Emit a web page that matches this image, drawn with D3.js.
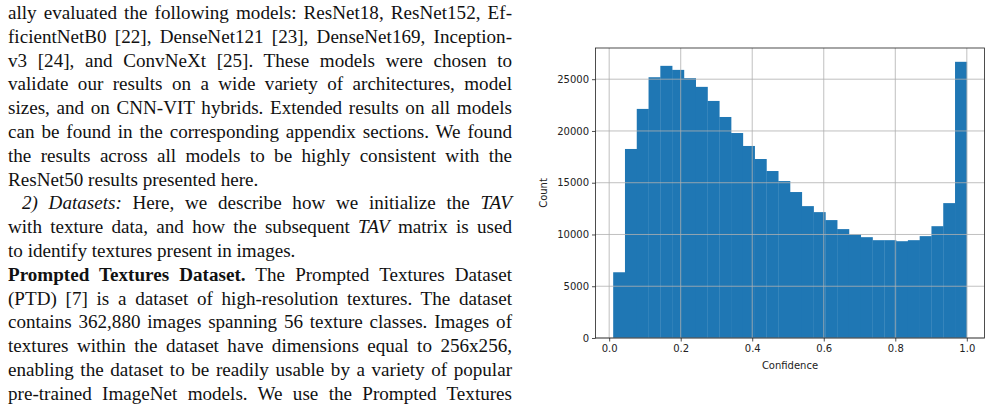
<!DOCTYPE html>
<html><head><meta charset="utf-8">
<script src="https://cdn.jsdelivr.net/npm/d3@7"></script>
<style>
body{margin:0;background:#fff;width:992px;height:404px;overflow:hidden;position:relative}
#txt{position:absolute;left:8px;top:1px;width:504px;font-family:"Liberation Serif","Times New Roman",serif;font-size:19.1px;line-height:23.8px;color:#111}
#txt div{text-align:justify;text-align-last:justify;white-space:normal;height:23.8px;overflow:visible}
#txt div.l{text-align-last:left}
#chart{position:absolute;left:0;top:0}
</style></head><body>
<div id="txt"></div>
<svg id="chart" width="992" height="404"></svg>
<script>
const textLines = [
 "ally evaluated the following models: ResNet18, ResNet152, Ef-",
 "ficientNetB0 [22], DenseNet121 [23], DenseNet169, Inception-",
 "v3 [24], and ConvNeXt [25]. These models were chosen to",
 "validate our results on a wide variety of architectures, model",
 "sizes, and on CNN-VIT hybrids. Extended results on all models",
 "can be found in the corresponding appendix sections. We found",
 "the results across all models to be highly consistent with the",
 "ResNet50 results presented here.|L",
 "&emsp;<i>2) Datasets:</i> Here, we describe how we initialize the <i>TAV</i>",
 "with texture data, and how the subsequent <i>TAV</i> matrix is used",
 "to identify textures present in images.|L",
 "<b>Prompted Textures Dataset.</b> The Prompted Textures Dataset",
 "(PTD) [7] is a dataset of high-resolution textures. The dataset",
 "contains 362,880 images spanning 56 texture classes. Images of",
 "textures within the dataset have dimensions equal to 256x256,",
 "enabling the dataset to be readily usable by a variety of popular",
 "pre-trained ImageNet models. We use the Prompted Textures"
];
const binStart = 0.0112, binEnd = 1.0;
const counts = [6350,18260,22130,25190,26290,25900,25100,24260,22900,21350,19800,18550,17290,16130,15160,14100,12740,12160,11390,10520,10000,9740,9450,9450,9350,9450,9840,10800,13030,26680];
const xTicks = [0,0.2,0.4,0.6,0.8,1.0];
const yTicks = [0,5000,10000,15000,20000,25000];

const t = d3.select("#txt");
textLines.forEach(s=>{
  const last = s.endsWith("|L");
  const h = last ? s.slice(0,-2) : s;
  t.append("div").attr("class", last?"l":null).html(h.replace(/^&emsp;/,'<span style="display:inline-block;width:14px"></span>'));
});

const svg = d3.select("#chart");
const L=595.5,R=984.5,T=48,B=338;
const nb=counts.length, w=(binEnd-binStart)/nb;
const x=d3.scaleLinear().domain([binStart-0.05*(binEnd-binStart),binEnd+0.05*(binEnd-binStart)]).range([L,R]);
const ymax=d3.max(counts)*1.05;
const y=d3.scaleLinear().domain([0,ymax]).range([B,T]);
const g=svg.append("g");
g.selectAll("rect").data(counts).join("rect")
 .attr("x",(d,i)=>x(binStart+i*w)).attr("width",(d,i)=>x(binStart+(i+1)*w)-x(binStart+i*w)+0.3)
 .attr("y",d=>y(d)).attr("height",d=>B-y(d)).attr("fill","#1f77b4");
g.selectAll(".gx").data(xTicks).join("line").attr("x1",d=>x(d)).attr("x2",d=>x(d)).attr("y1",T).attr("y2",B).attr("stroke","#b0b0b0").attr("stroke-width",0.8);
g.selectAll(".gy").data(yTicks).join("line").attr("y1",d=>y(d)).attr("y2",d=>y(d)).attr("x1",L).attr("x2",R).attr("stroke","#b0b0b0").attr("stroke-width",0.8);
const xa=svg.append("g").attr("transform",`translate(0,${B})`).call(d3.axisBottom(x).tickValues(xTicks).tickFormat(d3.format(".1f")).tickSize(3.5).tickPadding(3));
const ya=svg.append("g").attr("transform",`translate(${L},0)`).call(d3.axisLeft(y).tickValues(yTicks).tickFormat(d=>d).tickSize(3.5).tickPadding(3));
[xa,ya].forEach(a=>{a.select(".domain").remove();a.selectAll("text").attr("font-family","DejaVu Sans").attr("font-size","10px").attr("fill","#222");a.selectAll("line").attr("stroke","#222").attr("stroke-width",0.8);});
svg.append("rect").attr("x",L).attr("y",T).attr("width",R-L).attr("height",B-T).attr("fill","none").attr("stroke","#222").attr("stroke-width",0.8);
svg.append("text").attr("x",(L+R)/2).attr("y",369).attr("text-anchor","middle").attr("font-family","DejaVu Sans").attr("font-size","10px").attr("fill","#222").text("Confidence");
svg.append("text").attr("transform",`translate(547,${(T+B)/2}) rotate(-90)`).attr("text-anchor","middle").attr("font-family","DejaVu Sans").attr("font-size","10px").attr("fill","#222").text("Count");
</script></body></html>
